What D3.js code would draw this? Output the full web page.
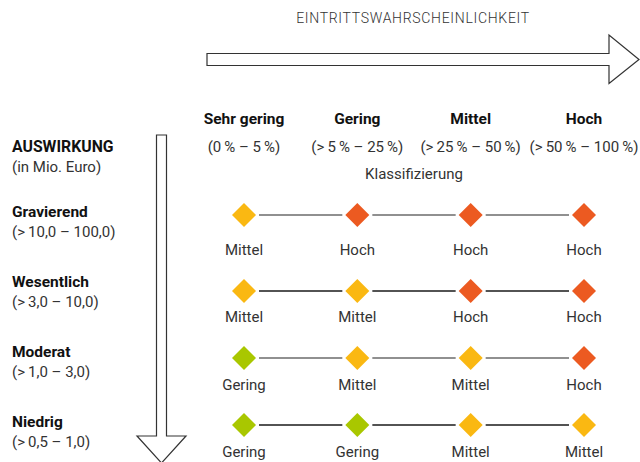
<!DOCTYPE html>
<head>
    <title>Risikomatrix</title>
</head>
<meta charset="utf-8">

<script src="https://d3js.org/d3.v7.min.js"></script>

<style>
  body { margin: 0; background: #fff; }
  text { font-family: Roboto, "DejaVu Sans", sans-serif; }
</style>

<div id="my_dataviz"></div>
<body>
<script>

// columns: probability classes
var probClasses = ["Sehr gering", "Gering", "Mittel", "Hoch"]
var probRanges = ["(0\u2009% \u2013 5\u2009%)", "(>\u20095\u2009% \u2013 25\u2009%)", "(>\u200925\u2009% \u2013 50\u2009%)", "(>\u200950\u2009% \u2013 100\u2009%)"]

// rows: impact classes
var impactClasses = ["Gravierend", "Wesentlich", "Moderat", "Niedrig"]
var impactRanges = ["(>\u200910,0 \u2013 100,0)", "(>\u20093,0 \u2013 10,0)", "(>\u20091,0 \u2013 3,0)", "(>\u20090,5 \u2013 1,0)"]

// resulting risk class per row (impact) and column (probability)
var riskGravierend = ["Mittel", "Hoch", "Hoch", "Hoch"]
var riskWesentlich = ["Mittel", "Mittel", "Hoch", "Hoch"]
var riskModerat = ["Gering", "Mittel", "Mittel", "Hoch"]
var riskNiedrig = ["Gering", "Gering", "Mittel", "Mittel"]

var riskLevels = ["Gering", "Mittel", "Hoch"]

var width = 640, height = 462

var svg = d3.select("#my_dataviz")
  .append("svg")
    .attr("width", width)
    .attr("height", height)

var x = d3.scalePoint()
  .domain(probClasses)
  .range([244, 584])

var yRow = d3.scaleOrdinal()
  .domain(impactClasses)
  .range([215, 291, 358, 425])

var yRowLabel = d3.scaleOrdinal()
  .domain(impactClasses)
  .range([255, 322, 390, 457])

var yImpactLabel = d3.scalePoint()
  .domain(impactClasses)
  .range([217, 427])

var color = d3.scaleOrdinal()
  .domain(riskLevels)
  .range(["#a9c700", "#fab812", "#ec5a21"])

var lineColor = d3.scaleOrdinal()
  .domain(impactClasses)
  .range(["#6b6b6b", "#1a1a1a", "#6b6b6b", "#1a1a1a"])

var rows = [
  {impact: "Gravierend", risks: riskGravierend},
  {impact: "Wesentlich", risks: riskWesentlich},
  {impact: "Moderat", risks: riskModerat},
  {impact: "Niedrig", risks: riskNiedrig}
]

var regular = "15px", bold = "15.5px"

// title + horizontal arrow
svg.append("text")
  .attr("x", 413).attr("y", 23)
  .attr("text-anchor", "middle")
  .style("font-size", "14px")
  .style("font-weight", 300)
  .style("letter-spacing", "0.7px")
  .style("fill", "#333")
  .text("EINTRITTSWAHRSCHEINLICHKEIT")

svg.append("path")
  .attr("d", "M207,53.5 L609,53.5 L609,35 L639,59.5 L609,83.5 L609,65.5 L207,65.5 Z")
  .style("fill", "none")
  .style("stroke", "#333")
  .style("stroke-width", 1.2)

// vertical arrow
svg.append("path")
  .attr("d", "M156.5,135 L166.5,135 L166.5,436 L186,436 L161.5,463 L137,436 L156.5,436 Z")
  .style("fill", "none")
  .style("stroke", "#333")
  .style("stroke-width", 1.2)

// column headers
svg.selectAll("colHead")
  .data(probClasses).enter()
  .append("text")
    .attr("x", function(d) { return x(d) })
    .attr("y", 124)
    .attr("text-anchor", "middle")
    .style("font-size", bold)
    .style("font-weight", "bold")
    .style("fill", "#111")
    .text(function(d) { return d })

svg.selectAll("colRange")
  .data(probRanges).enter()
  .append("text")
    .attr("x", function(d, i) { return x(probClasses[i]) })
    .attr("y", 152)
    .attr("text-anchor", "middle")
    .style("font-size", regular)
    .style("fill", "#333")
    .text(function(d) { return d })

svg.append("text")
  .attr("x", 414).attr("y", 179)
  .attr("text-anchor", "middle")
  .style("font-size", regular)
  .style("fill", "#333")
  .text("Klassifizierung")

// row headers
svg.append("text")
  .attr("x", 12).attr("y", 152)
  .style("font-size", "15.8px")
  .style("font-weight", "bold")
  .style("fill", "#111")
  .text("AUSWIRKUNG")

svg.append("text")
  .attr("x", 12).attr("y", 172)
  .style("font-size", regular)
  .style("fill", "#333")
  .text("(in Mio. Euro)")

svg.selectAll("rowHead")
  .data(impactClasses).enter()
  .append("text")
    .attr("x", 12)
    .attr("y", function(d) { return yImpactLabel(d) })
    .style("font-size", bold)
    .style("font-weight", "bold")
    .style("fill", "#111")
    .text(function(d) { return d })

svg.selectAll("rowRange")
  .data(impactRanges).enter()
  .append("text")
    .attr("x", 12)
    .attr("y", function(d, i) { return yImpactLabel(impactClasses[i]) + 20 })
    .style("font-size", regular)
    .style("fill", "#333")
    .text(function(d) { return d })

// connector lines + diamonds
var half = 12, gap = 3

var rowG = svg.selectAll("rowG")
  .data(rows).enter()
  .append("g")

rowG.each(function(r) {
  var g = d3.select(this)
  var cy = yRow(r.impact)
  for (var i = 0; i < probClasses.length - 1; i++) {
    g.append("line")
      .attr("x1", x(probClasses[i]) + half + gap)
      .attr("x2", x(probClasses[i + 1]) - half - gap)
      .attr("y1", cy).attr("y2", cy)
      .style("stroke", lineColor(r.impact))
      .style("stroke-width", 1.5)
  }
  g.selectAll("diamond")
    .data(r.risks).enter()
    .append("path")
      .attr("d", function(d, i) {
        var cx = x(probClasses[i])
        return "M" + cx + "," + (cy - half) + "L" + (cx + half) + "," + cy +
               "L" + cx + "," + (cy + half) + "L" + (cx - half) + "," + cy + "Z"
      })
      .style("fill", function(d) { return color(d) })
  g.selectAll("riskLabel")
    .data(r.risks).enter()
    .append("text")
      .attr("x", function(d, i) { return x(probClasses[i]) })
      .attr("y", yRowLabel(r.impact))
      .attr("text-anchor", "middle")
      .style("font-size", regular)
      .style("fill", "#333")
      .text(function(d) { return d })
})

</script>
</body>
